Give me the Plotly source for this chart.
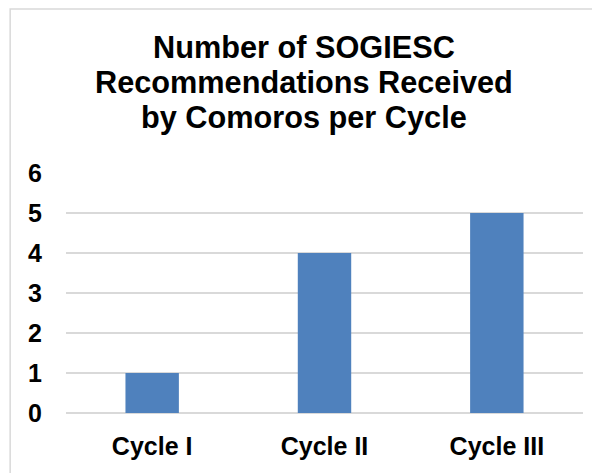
import plotly.graph_objects as go

cycles = ["Cycle I", "Cycle II", "Cycle III"]
recommendations = [1, 4, 5]
title_lines = ["Number of SOGIESC", "Recommendations Received", "by Comoros per Cycle"]

fig = go.Figure(go.Bar(
    x=cycles,
    y=recommendations,
    marker=dict(color="#4F81BD", line=dict(width=0)),
    width=0.31,
))

# thin grey frame round the chart (it runs off the right and bottom edge)
fig.add_shape(type="rect", xref="paper", yref="paper",
              x0=-0.108, x1=1.08, y0=-0.35, y1=1.683,
              line=dict(color="#D9D9D9", width=1.5), layer="below")

# title as three lines so the line spacing can be tighter
for i, line in enumerate(title_lines):
    fig.add_annotation(text="<b>" + line + "</b>", xref="paper", yref="paper",
                       x=0.461, y=1.525 - i * 0.146, xanchor="center", yanchor="middle",
                       showarrow=False, font=dict(size=30.7, color="black"))

fig.update_layout(
    width=600, height=473,
    margin=dict(l=58, r=24.5, t=165, b=68),
    paper_bgcolor="white", plot_bgcolor="white",
    font=dict(family="Liberation Sans, Arial, sans-serif", color="black"),
    xaxis=dict(
        tickfont=dict(size=25),
        tickprefix="<b>", ticksuffix="</b>",
        showline=False, showgrid=False,
        ticklabelstandoff=16,
    ),
    yaxis=dict(
        range=[0, 6], dtick=1,
        tickfont=dict(size=25),
        tickprefix="<b>", ticksuffix="</b>",
        showgrid=True, gridcolor="#D9D9D9", gridwidth=1.5,
        zeroline=True, zerolinecolor="#D9D9D9", zerolinewidth=1.5,
        ticklabelstandoff=23,
    ),
    showlegend=False,
)

fig.write_html("out.html")
